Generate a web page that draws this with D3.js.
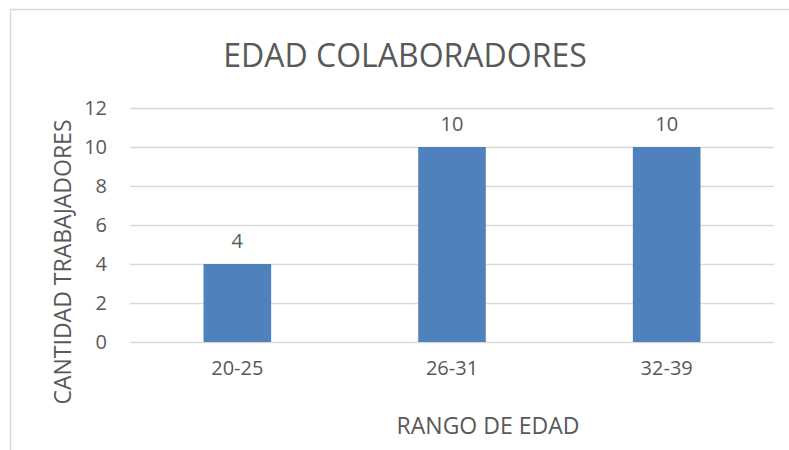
<!DOCTYPE html>
<html>
<head>
<meta charset="utf-8">
<script src="https://cdn.jsdelivr.net/npm/d3@7"></script>
<style>
  body { margin: 0; background: #fff; }
  text { font-family: "Open Sans", "Noto Sans", sans-serif; fill: #595959; }
</style>
</head>
<body>
<svg id="chart" width="789" height="450"></svg>
<script>
var categories = ["20-25", "26-31", "32-39"];
var values = [4, 10, 10];
var yTicks = [0, 2, 4, 6, 8, 10, 12];

var svg = d3.select("#chart"),
    margin = {top: 108, right: 15, bottom: 108, left: 130},
    width = 774 - margin.left,
    height = 342 - margin.top;

// chart area frame (only top and left edges visible in the crop)
svg.append("path")
  .attr("d", "M10.5,450 L10.5,9.5 L789,9.5")
  .attr("fill", "none")
  .attr("stroke", "#d9d9d9")
  .attr("stroke-width", 1.5);

var g = svg.append("g").attr("transform", "translate(" + margin.left + "," + margin.top + ")");

var x = d3.scaleBand()
  .domain(categories)
  .range([0, width])
  .paddingInner(0.685)
  .paddingOuter(0.3425);

var y = d3.scaleLinear()
  .domain([0, 12])
  .range([height, 0]);

// grid + y labels
g.append("g")
  .call(d3.axisLeft(y).tickValues(yTicks).tickSize(-width).tickPadding(23))
  .call(function(a) {
    a.select(".domain").remove();
    a.selectAll(".tick line").attr("stroke", "#d9d9d9").attr("stroke-width", 1.5);
    a.selectAll(".tick text").attr("font-size", 20).attr("fill", "#595959");
  });

// x labels
g.append("g")
  .attr("transform", "translate(0," + height + ")")
  .call(d3.axisBottom(x).tickSize(0).tickPadding(19))
  .call(function(a) {
    a.select(".domain").remove();
    a.selectAll(".tick text").attr("font-size", 20).attr("fill", "#595959");
  });

g.selectAll(".bar")
  .data(values)
  .enter().append("rect")
    .attr("class", "bar")
    .attr("x", function(d, i) { return x(categories[i]); })
    .attr("y", function(d) { return y(d); })
    .attr("width", x.bandwidth())
    .attr("height", function(d) { return height - y(d); })
    .attr("fill", "#4f81bd");

g.selectAll(".label")
  .data(values)
  .enter().append("text")
    .attr("class", "label")
    .attr("x", function(d, i) { return x(categories[i]) + x.bandwidth() / 2; })
    .attr("y", function(d) { return y(d) - 16; })
    .attr("text-anchor", "middle")
    .attr("font-size", 20)
    .text(function(d) { return d; });

svg.append("text")
  .attr("x", 405)
  .attr("y", 67)
  .attr("text-anchor", "middle")
  .attr("font-size", 32)
  .text("EDAD COLABORADORES");

svg.append("text")
  .attr("x", 488)
  .attr("y", 434)
  .attr("text-anchor", "middle")
  .attr("font-size", 23)
  .text("RANGO DE EDAD");

svg.append("text")
  .attr("transform", "translate(71,262) rotate(-90)")
  .attr("text-anchor", "middle")
  .attr("font-size", 23)
  .text("CANTIDAD TRABAJADORES");
</script>
</body>
</html>
